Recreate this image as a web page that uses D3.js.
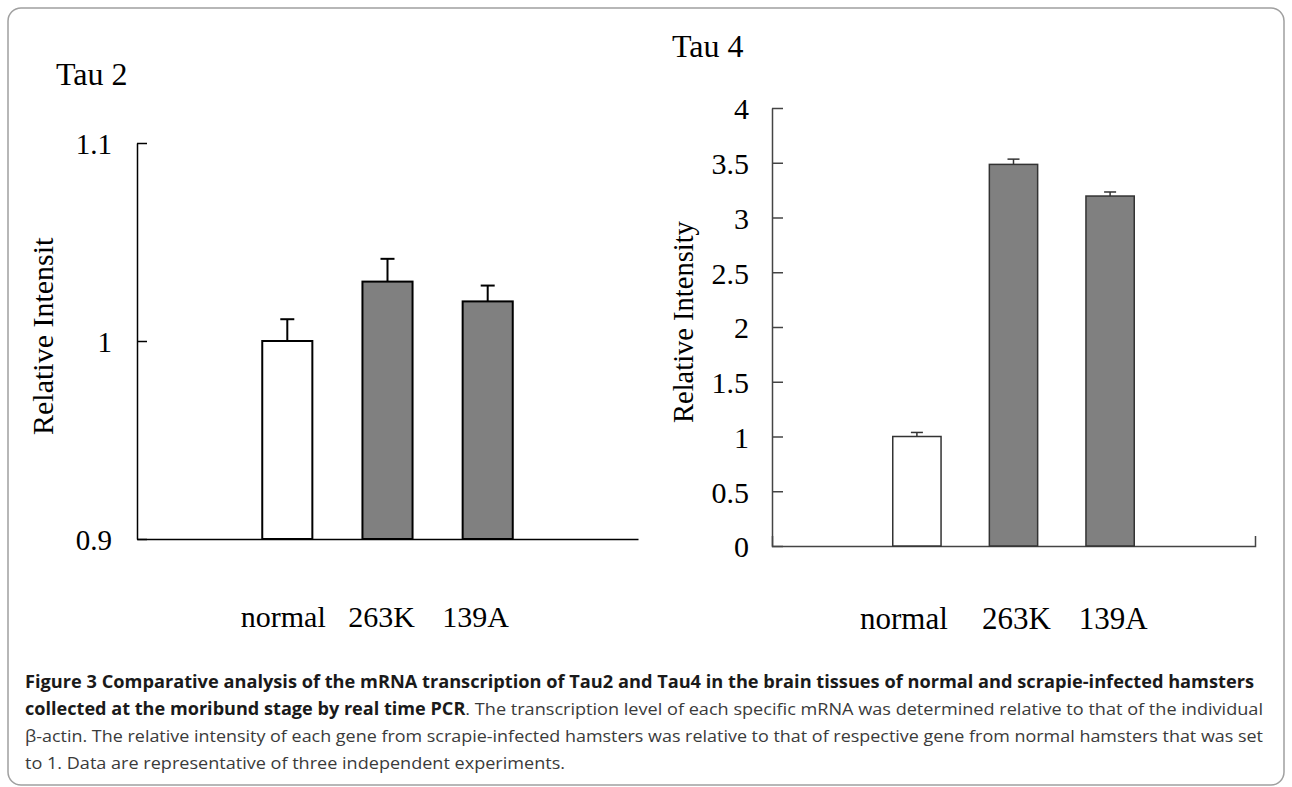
<!DOCTYPE html>
<html>
<head>
<meta charset="utf-8">
<script src="https://cdn.jsdelivr.net/npm/d3@7"></script>
<style>
  html, body { margin: 0; padding: 0; background: #fff; }
  svg { display: block; }
</style>
</head>
<body>
<div id="figure"></div>
<script>

// ---------------- data ----------------

var categories = ["normal", "263K", "139A"];

var tau2Values = [1.000, 1.030, 1.020];
var tau2Errors = [0.011, 0.0115, 0.008];
var tau2Ticks = [0.9, 1.0, 1.1];
var tau2TickLabels = ["0.9", "1", "1.1"];

var tau4Values = [1.000, 3.485, 3.196];
var tau4Errors = [0.037, 0.048, 0.037];
var tau4Ticks = [0, 0.5, 1, 1.5, 2, 2.5, 3, 3.5, 4];
var tau4TickLabels = ["0", "0.5", "1", "1.5", "2", "2.5", "3", "3.5", "4"];

var barFills = ["#ffffff", "#808080", "#808080"];

var captionBold1 = "Figure 3 Comparative analysis of the mRNA transcription of Tau2 and Tau4 in the brain tissues of normal and scrapie-infected hamsters";
var captionBold2 = "collected at the moribund stage by real time PCR";
var captionRest2 = ". The transcription level of each specific mRNA was determined relative to that of the individual";
var captionLine3 = "\u03b2-actin. The relative intensity of each gene from scrapie-infected hamsters was relative to that of respective gene from normal hamsters that was set";
var captionLine4 = "to 1. Data are representative of three independent experiments.";

// ---------------- svg ----------------

var svgWidth = 1292;
var svgHeight = 787;

var svg = d3.select("#figure").append("svg")
  .attr("width", svgWidth)
  .attr("height", svgHeight);

// rounded frame around the figure
svg.append("rect")
  .attr("x", 8).attr("y", 8)
  .attr("width", 1276).attr("height", 777)
  .attr("rx", 13).attr("ry", 13)
  .attr("fill", "none")
  .attr("stroke", "#a0a0a0")
  .attr("stroke-width", 1.5);

var serif = "'Liberation Serif', 'Times New Roman', serif";

// ---------------- one panel ----------------

var drawPanel = (p) => {
  var g = svg.append("g");

  var x = d3.scaleBand()
    .domain(d3.range(p.values.length + 2))
    .range([p.x0, p.x1]);

  var y = d3.scaleLinear()
    .domain(p.domain)
    .range([p.y0, p.y1]);

  var bw = x.bandwidth();

  // y axis, ticks pointing inward
  var yAxis = g.append("g")
    .attr("transform", `translate(${p.x0}, 0)`)
    .call(d3.axisLeft(y)
      .tickValues(p.ticks)
      .tickFormat((d, i) => p.tickLabels[i])
      .tickSize(-p.tickLen)
      .tickSizeOuter(0)
      .tickPadding(p.tickPad));

  yAxis.selectAll("path, line")
    .attr("stroke", p.lineColor)
    .attr("stroke-width", p.lineWidth);
  yAxis.selectAll("text")
    .attr("font-family", serif)
    .attr("font-size", p.tickFont)
    .attr("fill", "#000")
    .attr("dy", "0.36em");

  // x axis (no category ticks, optional end tick)
  var xAxis = g.append("g")
    .attr("transform", `translate(0, ${p.y0})`)
    .call(d3.axisBottom(x)
      .tickValues([])
      .tickSizeOuter(-p.endTick));
  xAxis.select("path")
    .attr("stroke", p.lineColor)
    .attr("stroke-width", p.lineWidth);

  // bars
  g.selectAll("rect.bar")
    .data(p.values)
    .enter()
    .append("rect")
    .attr("class", "bar")
    .attr("x", (d, i) => x(i + 1) + bw / 4)
    .attr("width", bw / 2)
    .attr("y", d => y(d))
    .attr("height", d => y(p.domain[0]) - y(d))
    .attr("fill", (d, i) => barFills[i])
    .attr("stroke", p.barStroke)
    .attr("stroke-width", p.barStrokeWidth);

  // error bars (upper only)
  var err = g.selectAll("g.err")
    .data(p.values)
    .enter()
    .append("g")
    .attr("class", "err")
    .attr("stroke", p.barStroke)
    .attr("stroke-width", p.barStrokeWidth);

  err.append("line")
    .attr("x1", (d, i) => x(i + 1) + bw / 2)
    .attr("x2", (d, i) => x(i + 1) + bw / 2)
    .attr("y1", d => y(d))
    .attr("y2", (d, i) => y(d + p.errors[i]));

  err.append("line")
    .attr("x1", (d, i) => x(i + 1) + bw / 2 - p.capHalf)
    .attr("x2", (d, i) => x(i + 1) + bw / 2 + p.capHalf)
    .attr("y1", (d, i) => y(d + p.errors[i]))
    .attr("y2", (d, i) => y(d + p.errors[i]));

  // category labels
  g.selectAll("text.cat")
    .data(categories)
    .enter()
    .append("text")
    .attr("class", "cat")
    .attr("x", (d, i) => x(i + 1) + bw / 2 + p.labelShift[i])
    .attr("y", p.labelY)
    .attr("text-anchor", "middle")
    .attr("font-family", serif)
    .attr("font-size", p.labelFont)
    .attr("fill", "#000")
    .text(d => d);

  // panel title
  g.append("text")
    .attr("x", p.titleX)
    .attr("y", p.titleY)
    .attr("font-family", serif)
    .attr("font-size", p.titleFont)
    .attr("fill", "#000")
    .text(p.title);

  // y axis title, rotated (the left one is cut off at the top, as in the figure)
  var titleHolder = g.append("g");
  if (p.clipId) {
    svg.append("clipPath").attr("id", p.clipId)
      .append("rect")
      .attr("x", 0).attr("y", p.clipTop)
      .attr("width", 200).attr("height", 600);
    titleHolder.attr("clip-path", `url(#${p.clipId})`);
  }
  titleHolder.append("text")
    .attr("transform", `translate(${p.yTitleX}, ${p.yTitleY}) rotate(-90)`)
    .attr("font-family", serif)
    .attr("font-size", p.yTitleFont)
    .attr("fill", "#000")
    .text("Relative Intensity");
};

// left panel: Tau 2
drawPanel({
  title: "Tau 2", titleX: 56, titleY: 85, titleFont: 32,
  values: tau2Values, errors: tau2Errors,
  domain: [0.9, 1.1], ticks: tau2Ticks, tickLabels: tau2TickLabels,
  x0: 137, x1: 638, y0: 539, y1: 143,
  tickLen: 10, tickPad: 25, tickFont: 29, endTick: 0,
  lineColor: "#000", lineWidth: 1.5,
  barStroke: "#000", barStrokeWidth: 2, capHalf: 7,
  labelShift: [-4, -6, -12], labelY: 627, labelFont: 30,
  yTitleX: 53, yTitleY: 435, yTitleFont: 30,
  clipId: "clipTau2", clipTop: 237
});

// right panel: Tau 4
drawPanel({
  title: "Tau 4", titleX: 672, titleY: 57, titleFont: 32,
  values: tau4Values, errors: tau4Errors,
  domain: [0, 4], ticks: tau4Ticks, tickLabels: tau4TickLabels,
  x0: 772, x1: 1255, y0: 546, y1: 108,
  tickLen: 11, tickPad: 23, tickFont: 30, endTick: 10,
  lineColor: "#444", lineWidth: 1.5,
  barStroke: "#333", barStrokeWidth: 1.5, capHalf: 6,
  labelShift: [-13, 3, 3], labelY: 629, labelFont: 31,
  yTitleX: 693, yTitleY: 423, yTitleFont: 28.5,
  clipId: null
});

// ---------------- caption ----------------

var sans = "'Open Sans', 'Noto Sans', sans-serif";
var capX = 25;

var cap = svg.append("g")
  .attr("font-family", sans)
  .attr("font-size", 17);

cap.append("text")
  .attr("x", capX).attr("y", 688)
  .attr("font-weight", "bold")
  .attr("fill", "#1a1a1a")
  .attr("textLength", 1229)
  .attr("lengthAdjust", "spacingAndGlyphs")
  .text(captionBold1);

var l2 = cap.append("text")
  .attr("x", capX).attr("y", 715)
  .attr("textLength", 1238)
  .attr("lengthAdjust", "spacingAndGlyphs");
l2.append("tspan").attr("font-weight", "bold").attr("fill", "#1a1a1a").text(captionBold2);
l2.append("tspan").attr("fill", "#3a3a3a").text(captionRest2);

cap.append("text")
  .attr("x", capX).attr("y", 742)
  .attr("fill", "#3a3a3a")
  .attr("textLength", 1238)
  .attr("lengthAdjust", "spacingAndGlyphs")
  .text(captionLine3);

cap.append("text")
  .attr("x", capX).attr("y", 769)
  .attr("fill", "#3a3a3a")
  .attr("textLength", 540)
  .attr("lengthAdjust", "spacingAndGlyphs")
  .text(captionLine4);

</script>
</body>
</html>
